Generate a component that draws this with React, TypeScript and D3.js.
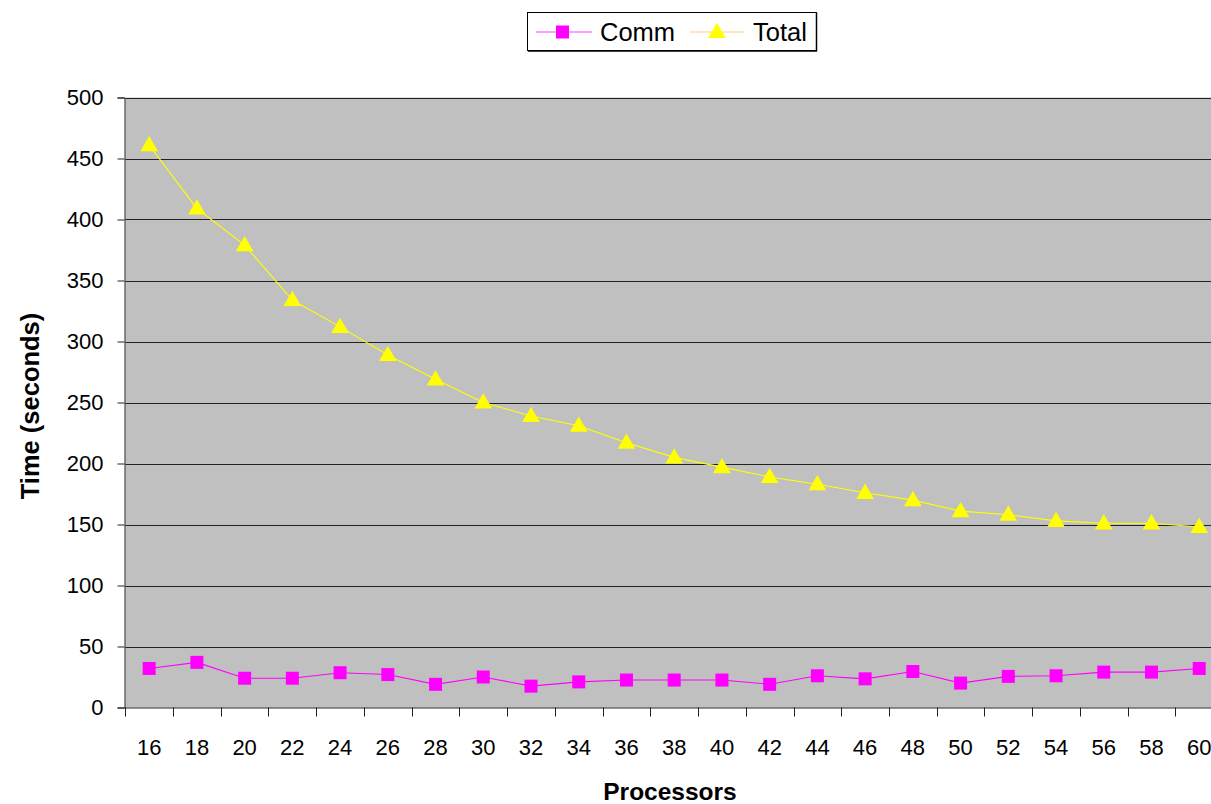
import React, { useEffect, useRef } from "react";
import * as d3 from "d3";

// Processor counts on the x axis
const processors: number[] = [16, 18, 20, 22, 24, 26, 28, 30, 32, 34, 36, 38, 40, 42, 44, 46, 48, 50, 52, 54, 56, 58, 60];
// Communication time (seconds)
const commTime: number[] = [32, 37, 24, 24, 28.5, 27, 19, 25, 17.5, 21, 22.5, 22.5, 22.5, 19, 26, 23.5, 29.5, 20, 25.5, 26, 29, 29, 32];
// Total run time (seconds)
const totalTime: number[] = [461, 409, 379, 334, 312, 289, 269, 250, 239, 231, 217, 205, 197, 189, 183, 176, 170, 161, 158, 153, 151, 151, 148];
// Y axis ticks
const yTicks: number[] = [0, 50, 100, 150, 200, 250, 300, 350, 400, 450, 500];

const W = 1211;
const H = 804;
const FONT = "'Liberation Sans', Arial, sans-serif";

export default function App() {
  const ref = useRef<SVGSVGElement | null>(null);

  useEffect(() => {
    const svg = d3.select(ref.current);
    svg.selectAll("*").remove();

    const left = 125.3;
    const step = 47.73;
    const right = left + step * processors.length;
    const top = 97.5;
    const bottom = 707.5;

    const x = d3.scaleBand<number>().domain(processors).range([left, right]).padding(0);
    const y = d3.scaleLinear().domain([0, 500]).range([bottom, top]);
    const cx = (p: number) => (x(p) as number) + x.bandwidth() / 2;

    // plot background
    svg.append("rect")
      .attr("x", left).attr("y", top)
      .attr("width", right - left).attr("height", bottom - top)
      .attr("fill", "#C0C0C0");

    // horizontal gridlines
    svg.append("g")
      .selectAll("line")
      .data(yTicks.filter((t) => t > 0))
      .join("line")
      .attr("x1", left).attr("x2", right)
      .attr("y1", (d) => Math.round(y(d)) + 0.5).attr("y2", (d) => Math.round(y(d)) + 0.5)
      .attr("stroke", "#222").attr("stroke-width", 1);

    // y axis
    const yAxis = d3.axisLeft(y).tickValues(yTicks).tickSize(7).tickPadding(14);
    const gy = svg.append("g").attr("transform", `translate(${left - 0.8},0)`).call(yAxis);
    gy.select(".domain").attr("stroke", "#222");
    gy.selectAll(".tick line").attr("stroke", "#222");
    gy.selectAll("text").attr("font-family", FONT).attr("font-size", 22).attr("fill", "#000");

    // x axis with ticks between categories
    svg.append("line")
      .attr("x1", left).attr("x2", right)
      .attr("y1", bottom + 0.5).attr("y2", bottom + 0.5)
      .attr("stroke", "#222");
    const boundaries = d3.range(processors.length + 1).map((i) => left + i * x.step());
    svg.append("g")
      .selectAll("line")
      .data(boundaries)
      .join("line")
      .attr("x1", (d) => Math.round(d) + 0.5).attr("x2", (d) => Math.round(d) + 0.5)
      .attr("y1", bottom).attr("y2", bottom + 9)
      .attr("stroke", "#222");
    svg.append("g")
      .selectAll("text")
      .data(processors)
      .join("text")
      .attr("x", (d) => cx(d))
      .attr("y", 755)
      .attr("text-anchor", "middle")
      .attr("font-family", FONT).attr("font-size", 22)
      .text((d) => d);

    // axis titles
    svg.append("text")
      .attr("transform", `translate(39,406) rotate(-90)`)
      .attr("text-anchor", "middle")
      .attr("font-family", FONT).attr("font-size", 25.5).attr("font-weight", "bold")
      .text("Time (seconds)");
    svg.append("text")
      .attr("x", 670).attr("y", 800)
      .attr("text-anchor", "middle")
      .attr("font-family", FONT).attr("font-size", 24.5).attr("font-weight", "bold")
      .text("Processors");

    // series
    const line = d3.line<number>().x((_, i) => cx(processors[i])).y((d) => y(d));
    svg.append("path").datum(commTime).attr("d", line).attr("fill", "none").attr("stroke", "#FF00FF").attr("stroke-width", 1.1);
    svg.append("path").datum(totalTime).attr("d", line).attr("fill", "none").attr("stroke", "#FFFF00").attr("stroke-width", 1.1);

    const sq = 13;
    svg.append("g").selectAll("rect")
      .data(commTime)
      .join("rect")
      .attr("x", (_, i) => cx(processors[i]) - sq / 2)
      .attr("y", (d) => y(d) - sq / 2)
      .attr("width", sq).attr("height", sq)
      .attr("fill", "#FF00FF");

    const tri = d3.symbol().type(d3.symbolTriangle).size(135);
    svg.append("g").selectAll("path")
      .data(totalTime)
      .join("path")
      .attr("transform", (d, i) => `translate(${cx(processors[i])},${y(d) + 1})`)
      .attr("d", tri)
      .attr("fill", "#FFFF00");

    // legend
    const lg = svg.append("g");
    lg.append("rect").attr("x", 527.5).attr("y", 12.5).attr("width", 289).attr("height", 38)
      .attr("fill", "#fff").attr("stroke", "#000").attr("stroke-width", 1);
    lg.append("line").attr("x1", 816.5).attr("x2", 816.5).attr("y1", 13).attr("y2", 51).attr("stroke", "#000").attr("stroke-width", 1.5);
    lg.append("line").attr("x1", 528).attr("x2", 817).attr("y1", 51).attr("y2", 51).attr("stroke", "#000").attr("stroke-width", 1.5);
    lg.append("line").attr("x1", 536).attr("x2", 592).attr("y1", 32).attr("y2", 32).attr("stroke", "#FF44FF").attr("stroke-width", 1.2);
    lg.append("rect").attr("x", 556).attr("y", 25.5).attr("width", 13).attr("height", 13).attr("fill", "#FF00FF");
    lg.append("text").attr("x", 600).attr("y", 41).attr("font-family", FONT).attr("font-size", 25.5).text("Comm");
    lg.append("line").attr("x1", 690).attr("x2", 744).attr("y1", 32).attr("y2", 32).attr("stroke", "#FFD080").attr("stroke-width", 1.2);
    lg.append("path").attr("transform", "translate(717,33)").attr("d", tri).attr("fill", "#FFFF00");
    lg.append("text").attr("x", 753).attr("y", 41).attr("font-family", FONT).attr("font-size", 25.5).text("Total");
  }, []);

  return (
    <svg
      ref={ref}
      width={W}
      height={H}
      style={{ position: "absolute", left: 0, top: 0, background: "#fff", display: "block" }}
    />
  );
}
